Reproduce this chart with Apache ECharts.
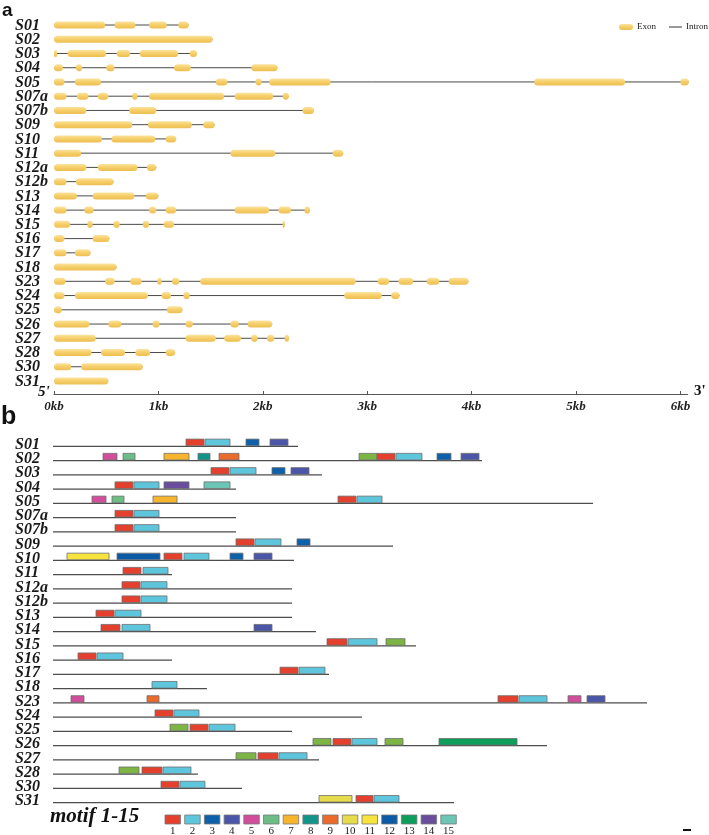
<!DOCTYPE html>
<html><head><meta charset="utf-8">
<script src="https://cdn.jsdelivr.net/npm/echarts@6/dist/echarts.min.js"></script>
<style>html,body{margin:0;padding:0;background:#fff}#c{width:709px;height:835px}</style>
</head><body><div id="c"></div>
<script>
// ---------- DATA ----------
const genes = ['S01','S02','S03','S04','S05','S07a','S07b','S09','S10','S11','S12a','S12b','S13','S14','S15','S16','S17','S18','S23','S24','S25','S26','S27','S28','S30','S31'];
// panel a: exon [start,end] in kb
const exons = [
  [[0,0.49],[0.58,0.78],[0.91,1.08],[1.19,1.29]],
  [[0,1.52]],
  [[0,0.03],[0.13,0.50],[0.60,0.73],[0.82,1.19],[1.30,1.37]],
  [[0,0.085],[0.21,0.27],[0.50,0.58],[1.15,1.31],[1.89,2.14]],
  [[0,0.10],[0.20,0.45],[1.55,1.66],[1.93,1.99],[2.06,2.65],[4.60,5.47],[6.00,6.08]],
  [[0,0.12],[0.22,0.33],[0.42,0.52],[0.75,0.80],[0.91,1.63],[1.73,2.10],[2.19,2.25]],
  [[0,0.31],[0.72,0.98],[2.38,2.49]],
  [[0,0.75],[0.90,1.32],[1.43,1.54]],
  [[0,0.46],[0.55,0.97],[1.07,1.17]],
  [[0,0.26],[1.69,2.12],[2.67,2.77]],
  [[0,0.31],[0.42,0.80],[0.89,0.98]],
  [[0,0.12],[0.21,0.57]],
  [[0,0.22],[0.37,0.77],[0.88,1.00]],
  [[0,0.12],[0.29,0.38],[0.91,0.98],[1.07,1.17],[1.73,2.06],[2.15,2.27],[2.40,2.45]],
  [[0,0.155],[0.32,0.37],[0.57,0.63],[0.85,0.91],[1.05,1.15],[2.19,2.21]],
  [[0,0.10],[0.37,0.53]],
  [[0,0.12],[0.20,0.35]],
  [[0,0.60]],
  [[0,0.11],[0.49,0.58],[0.73,0.84],[0.99,1.03],[1.13,1.20],[1.40,2.89],[3.10,3.21],[3.30,3.44],[3.57,3.69],[3.78,3.97]],
  [[0,0.10],[0.20,0.90],[1.03,1.12],[1.24,1.30],[2.78,3.14],[3.23,3.31]],
  [[0,0.075],[1.08,1.23]],
  [[0,0.34],[0.52,0.645],[0.945,1.01],[1.26,1.33],[1.69,1.77],[1.855,2.09]],
  [[0,0.40],[1.26,1.55],[1.63,1.79],[1.89,1.95],[2.04,2.11],[2.21,2.25]],
  [[0,0.36],[0.45,0.68],[0.78,0.92],[1.07,1.16]],
  [[0,0.165],[0.26,0.85]],
  [[0,0.52]]
];
const kbLabels = ['0kb','1kb','2kb','3kb','4kb','5kb','6kb'];
// panel b: protein length and motifs [motif, start, end] (relative units)
const protLen = [245,429,269,183,540,183,183,340,241,119,239,239,239,263,363,119,276,154,594,309,239,494,266,145,189,401];
const motifs = [
  [[1,133,151],[2,152,177],[3,193,206],[4,217,235]],
  [[5,50,64],[6,70,82],[7,111,136],[8,145,157],[9,166,186],[16,306,324],[1,324,342],[2,343,369],[3,384,398],[4,408,426]],
  [[1,158,176],[2,177,203],[3,219,232],[4,238,256]],
  [[1,62,80],[2,81,106],[14,111,136],[15,151,177]],
  [[5,39,53],[6,59,71],[7,100,124],[1,285,303],[2,304,329]],
  [[1,62,80],[2,81,106]],
  [[1,62,80],[2,81,106]],
  [[1,183,201],[2,202,228],[3,244,257]],
  [[11,14,56],[12,64,107],[1,111,129],[2,131,156],[3,177,190],[4,201,219]],
  [[1,70,88],[2,90,115]],
  [[1,69,87],[2,88,114]],
  [[1,69,87],[2,88,114]],
  [[1,43,61],[2,62,88]],
  [[1,48,67],[2,69,97],[4,201,219]],
  [[1,274,294],[2,295,324],[16,333,352]],
  [[1,25,43],[2,44,70]],
  [[1,227,245],[2,246,272]],
  [[2,99,124]],
  [[5,18,31],[9,94,106],[1,445,465],[2,466,494],[5,515,528],[4,534,552]],
  [[1,102,120],[2,121,146]],
  [[16,117,135],[1,137,155],[2,156,182]],
  [[16,260,278],[1,280,298],[2,299,324],[16,332,350],[13,386,464]],
  [[16,183,203],[1,205,225],[2,226,254]],
  [[16,66,86],[1,89,109],[2,110,138]],
  [[1,108,126],[2,127,152]],
  [[10,266,299],[1,303,320],[2,321,346]]
];
const motifNames = ['1','2','3','4','5','6','7','8','9','10','11','12','13','14','15'];
const motifColors = ['#E4402D','#5EC6DC','#0D61AB','#4C56A8','#D24D9B','#6DBE86','#F7B52E','#11958A','#EB6B2B','#E6DB4A','#F6E33D','#0B5AA5','#0D9E5C','#6A4D9C','#6CC6B5','#7DB544'];

// ---------- BUILD ----------
const labelFontCss = 'italic bold 16px "Liberation Serif"';
const intronData = exons.map((ex,i)=>[i, ex[0][0], ex[ex.length-1][1]]);
const exonData = [];
exons.forEach((ex,i)=>ex.forEach(e=>exonData.push([i,e[0],e[1]])));
const protData = protLen.map((l,i)=>[i,0,l]);
const motifData = [];
motifs.forEach((ms,i)=>ms.forEach(m=>motifData.push([i,m[1],m[2],m[0]])));
const nameData = genes.map((g,i)=>[i,0]);

const exonGrad = new echarts.graphic.LinearGradient(0,0,0,1,[
  {offset:0,color:'#FBE3A0'},{offset:0.45,color:'#F6D06A'},{offset:1,color:'#EDBE52'}]);

const chart = echarts.init(document.getElementById('c'), null, {renderer:'canvas'});

const graphics = [
  {type:'text', left:2, top:1, style:{text:'a', font:'bold 19px "Liberation Sans"', fill:'#111'}},
  {type:'text', left:1, top:405, style:{text:'b', font:'bold 25px "Liberation Sans"', fill:'#111'}},
  {type:'text', left:38, top:385, style:{text:"5'", font:'bold italic 15px "Liberation Serif"', fill:'#111'}},
  {type:'text', left:694, top:384, style:{text:"3'", font:'bold 15px "Liberation Serif"', fill:'#111'}},
  {type:'rect', shape:{x:619, y:24, width:14, height:6, r:3}, style:{fill:exonGrad}},
  {type:'text', left:637, top:22, style:{text:'Exon', font:'9px "Liberation Serif"', fill:'#222'}},
  {type:'line', shape:{x1:669, y1:27, x2:682, y2:27}, style:{stroke:'#333', lineWidth:1}},
  {type:'text', left:686, top:22, style:{text:'Intron', font:'9px "Liberation Serif"', fill:'#222'}},
  {type:'text', left:50, top:806, style:{text:'motif 1-15', font:'bold italic 21px "Liberation Serif"', fill:'#111'}},
  {type:'line', shape:{x1:683, y1:830, x2:691, y2:830}, style:{stroke:'#111', lineWidth:2}}
];
motifNames.forEach((n,i)=>{
  const x = 165 + i*19.7;
  graphics.push({type:'rect', shape:{x:x, y:815, width:15.5, height:9}, style:{fill:motifColors[i], stroke:'#777', lineWidth:0.8}});
  graphics.push({type:'text', x:x+7.75, y:826, style:{text:n, font:'11px "Liberation Serif"', fill:'#222', align:'center', verticalAlign:'top'}});
});

const nameRender = (dy)=> (p,api)=>{
  const c = api.coord([0, api.value(0)]);
  return {type:'text', x:15, y:c[1]+dy, style:{text:genes[api.value(0)], font:labelFontCss, fill:'#1a1a1a', verticalAlign:'middle', align:'left'}};
};

chart.setOption({
  animation:false,
  backgroundColor:'#fff',
  graphic: graphics,
  grid:[
    {left:54, top:25, width:633.7, height:369, containLabel:false},
    {left:53, top:446.3, width:600, height:356.4, containLabel:false}
  ],
  xAxis:[
    {gridIndex:0, type:'value', min:0, max:6.07, interval:1, position:'bottom',
     axisLine:{show:true, onZero:false, lineStyle:{color:'#555', width:1}},
     axisTick:{show:true, inside:true, length:3, lineStyle:{color:'#555'}},
     splitLine:{show:false},
     axisLabel:{margin:6, formatter:(v)=>kbLabels[Math.round(v)]||'', fontFamily:'Liberation Serif', fontStyle:'italic', fontWeight:'bold', fontSize:13, color:'#222'}},
    {gridIndex:1, type:'value', min:0, max:600, show:false, splitLine:{show:false}}
  ],
  yAxis:[
    {gridIndex:0, type:'value', min:0, max:25.913, interval:1, inverse:true, show:false},
    {gridIndex:1, type:'value', min:0, max:25, interval:1, inverse:true, show:false}
  ],
  series:[
    {name:'NamesA', type:'custom', xAxisIndex:0, yAxisIndex:0, data:nameData, encode:{y:0}, clip:false, renderItem:nameRender(0.5)},
    {name:'NamesB', type:'custom', xAxisIndex:1, yAxisIndex:1, data:nameData, encode:{y:0}, clip:false, renderItem:nameRender(-1.5)},
    {name:'Intron', type:'custom', xAxisIndex:0, yAxisIndex:0, data:intronData, encode:{x:[1,2], y:0},
     renderItem:(p,api)=>{
       const a=api.coord([api.value(1),api.value(0)]), b=api.coord([api.value(2),api.value(0)]);
       return {type:'line', shape:{x1:a[0],y1:a[1],x2:b[0],y2:b[1]}, style:{stroke:'#4a4a4a', lineWidth:1}};
     }},
    {name:'Exon', type:'custom', xAxisIndex:0, yAxisIndex:0, data:exonData, encode:{x:[1,2], y:0}, z:3,
     renderItem:(p,api)=>{
       const a=api.coord([api.value(1),api.value(0)]), b=api.coord([api.value(2),api.value(0)]);
       const h=7, w=Math.max(b[0]-a[0],2);
       return {type:'rect', shape:{x:a[0], y:a[1]-h/2, width:w, height:h, r:Math.min(h/2,w/2)}, style:{fill:exonGrad}};
     }},
    {name:'Protein', type:'custom', xAxisIndex:1, yAxisIndex:1, data:protData, encode:{x:[1,2], y:0},
     renderItem:(p,api)=>{
       const a=api.coord([api.value(1),api.value(0)]), b=api.coord([api.value(2),api.value(0)]);
       return {type:'line', shape:{x1:a[0],y1:a[1],x2:b[0],y2:b[1]}, style:{stroke:'#4d4d4d', lineWidth:1.2}};
     }},
    {name:'Motif', type:'custom', xAxisIndex:1, yAxisIndex:1, data:motifData, encode:{x:[1,2], y:0}, z:3,
     renderItem:(p,api)=>{
       const a=api.coord([api.value(1),api.value(0)]), b=api.coord([api.value(2),api.value(0)]);
       const m=api.value(3);
       return {type:'rect', shape:{x:a[0], y:a[1]-7.2, width:b[0]-a[0], height:6.6}, style:{fill:motifColors[m-1], stroke:'#6f6f6f', lineWidth:0.8}};
     }}
  ]
});
</script></body></html>
